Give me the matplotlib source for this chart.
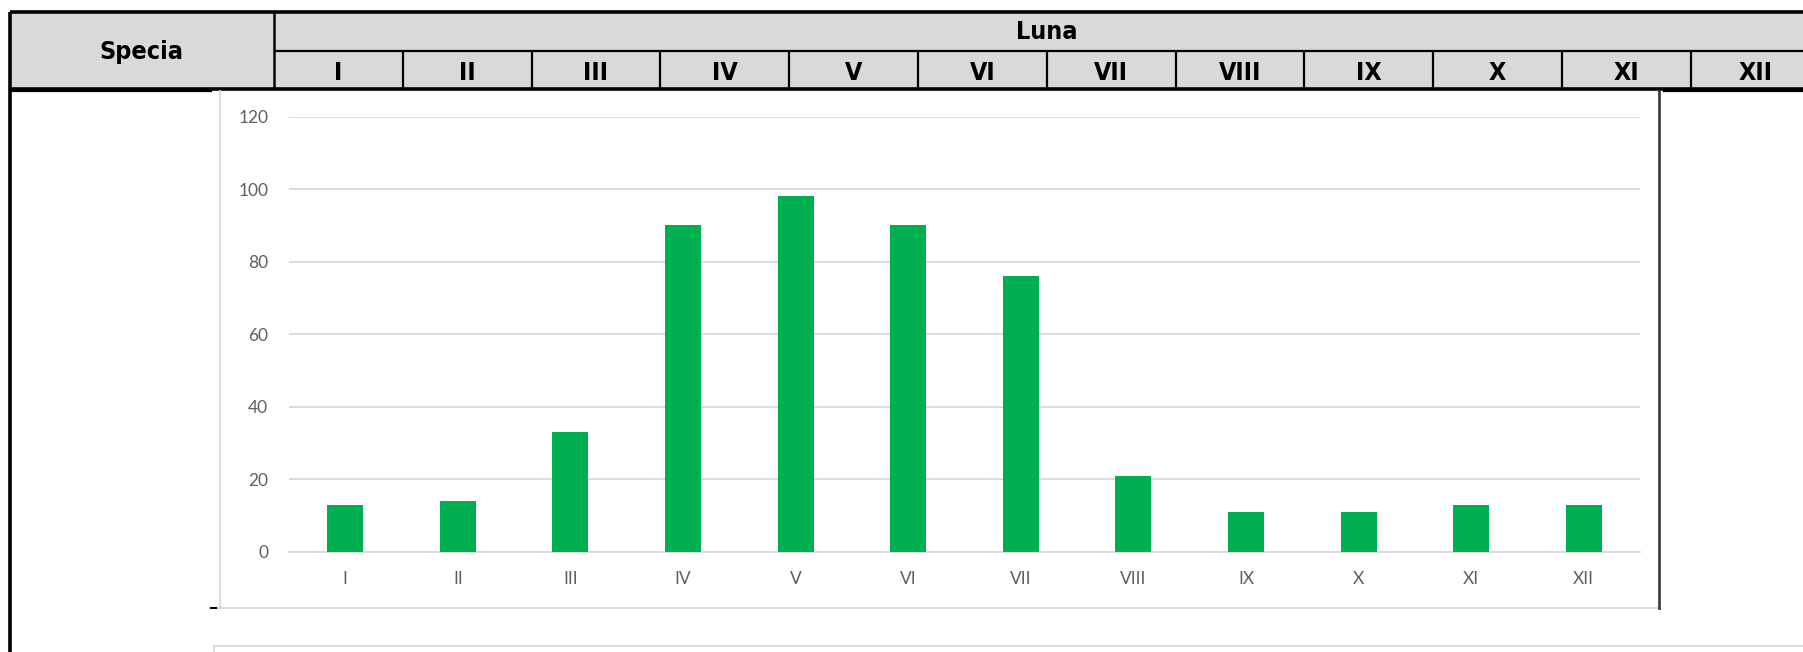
import matplotlib
matplotlib.use("Agg")
import matplotlib.pyplot as plt
from matplotlib.patches import Rectangle

# data
months = ['I', 'II', 'III', 'IV', 'V', 'VI', 'VII', 'VIII', 'IX', 'X', 'XI', 'XII']
values = [13, 14, 33, 90, 98, 90, 76, 21, 11, 11, 13, 13]
y_ticks = [0, 20, 40, 60, 80, 100, 120]

W, H = 1803, 652
fig = plt.figure(figsize=(W / 100, H / 100), dpi=100)
fig.patch.set_facecolor('white')

# overlay in pixel coords for the table header / page lines
bg = fig.add_axes([0, 0, 1, 1])
bg.set_xlim(0, W)
bg.set_ylim(H, 0)
bg.axis('off')

head_font = dict(family='DejaVu Sans', stretch='condensed', weight='bold',
                 color='black', fontsize=18)
gray = '#D9D9D9'
x0, col0, colw = 9.5, 274, 128.8
y_top, y_mid, y_bot = 12, 51, 89

bg.add_patch(Rectangle((x0, y_top), W - x0, y_bot - y_top, facecolor=gray, edgecolor='none'))
bg.plot([x0, W], [y_top, y_top], color='black', lw=2.6, solid_capstyle='butt')
bg.plot([x0, W], [y_bot, y_bot], color='black', lw=2.6, solid_capstyle='butt')
bg.plot([x0, 212], [91, 91], color='black', lw=1.6, solid_capstyle='butt')
bg.plot([1663, W], [91, 91], color='black', lw=1.6, solid_capstyle='butt')
bg.plot([x0, x0], [y_top, H], color='black', lw=2.6, solid_capstyle='butt')
bg.plot([col0, col0], [y_top, y_bot], color='black', lw=1.8, solid_capstyle='butt')
bg.plot([col0, W], [y_mid, y_mid], color='black', lw=1.6, solid_capstyle='butt')
for k in range(1, len(months)):
    xx = col0 + colw * k
    bg.plot([xx, xx], [y_mid, y_bot], color='black', lw=1.6, solid_capstyle='butt')

bg.text((x0 + col0) / 2, 52, 'Specia', ha='center', va='center', **head_font)
bg.text(col0 + colw * 6, 32, 'Luna', ha='center', va='center', **head_font)
for k, m in enumerate(months):
    bg.text(col0 + colw * (k + 0.5), 73, m, ha='center', va='center', **head_font)

# chart area border (excel chart object)
bg.plot([220, 220], [y_bot + 2, 607.5], color=gray, lw=1.3)
bg.plot([214, 1659], [607.5, 607.5], color=gray, lw=1.3)
bg.plot([1659, 1659], [y_bot + 2, 607.5], color='#404040', lw=2.0)
bg.plot([211, 216], [607.5, 607.5], color='black', lw=1.5)
bg.plot([214, W], [645.5, 645.5], color=gray, lw=1.3)
bg.plot([214, 214], [645.5, H], color=gray, lw=1.3)

# bar chart
left, right = 289, 1640
y0_px, y120_px = 551.7, 116.7
ax = fig.add_axes([left / W, (H - y0_px) / H, (right - left) / W, (y0_px - y120_px) / H])
ax.patch.set_visible(False)
ax.bar(range(len(months)), values, width=0.32, color='#00B050', zorder=3)
ax.set_xlim(-0.5, len(months) - 0.5)
ax.set_ylim(0, 120)
ax.set_yticks(y_ticks)
ax.set_xticks(range(len(months)))
ax.set_xticklabels(months)
ax.grid(axis='y', color=gray, lw=1.3, zorder=0)
for s in ['top', 'left', 'right']:
    ax.spines[s].set_visible(False)
ax.spines['bottom'].set_color(gray)
ax.spines['bottom'].set_linewidth(1.3)
ax.tick_params(axis='both', length=0, colors='#5F5F5F', labelsize=12.5)
ax.tick_params(axis='y', pad=15)
ax.tick_params(axis='x', pad=14)
for lab in ax.get_xticklabels() + ax.get_yticklabels():
    lab.set_family(['Lato', 'DejaVu Sans'])

fig.savefig('out.png', dpi=100)
